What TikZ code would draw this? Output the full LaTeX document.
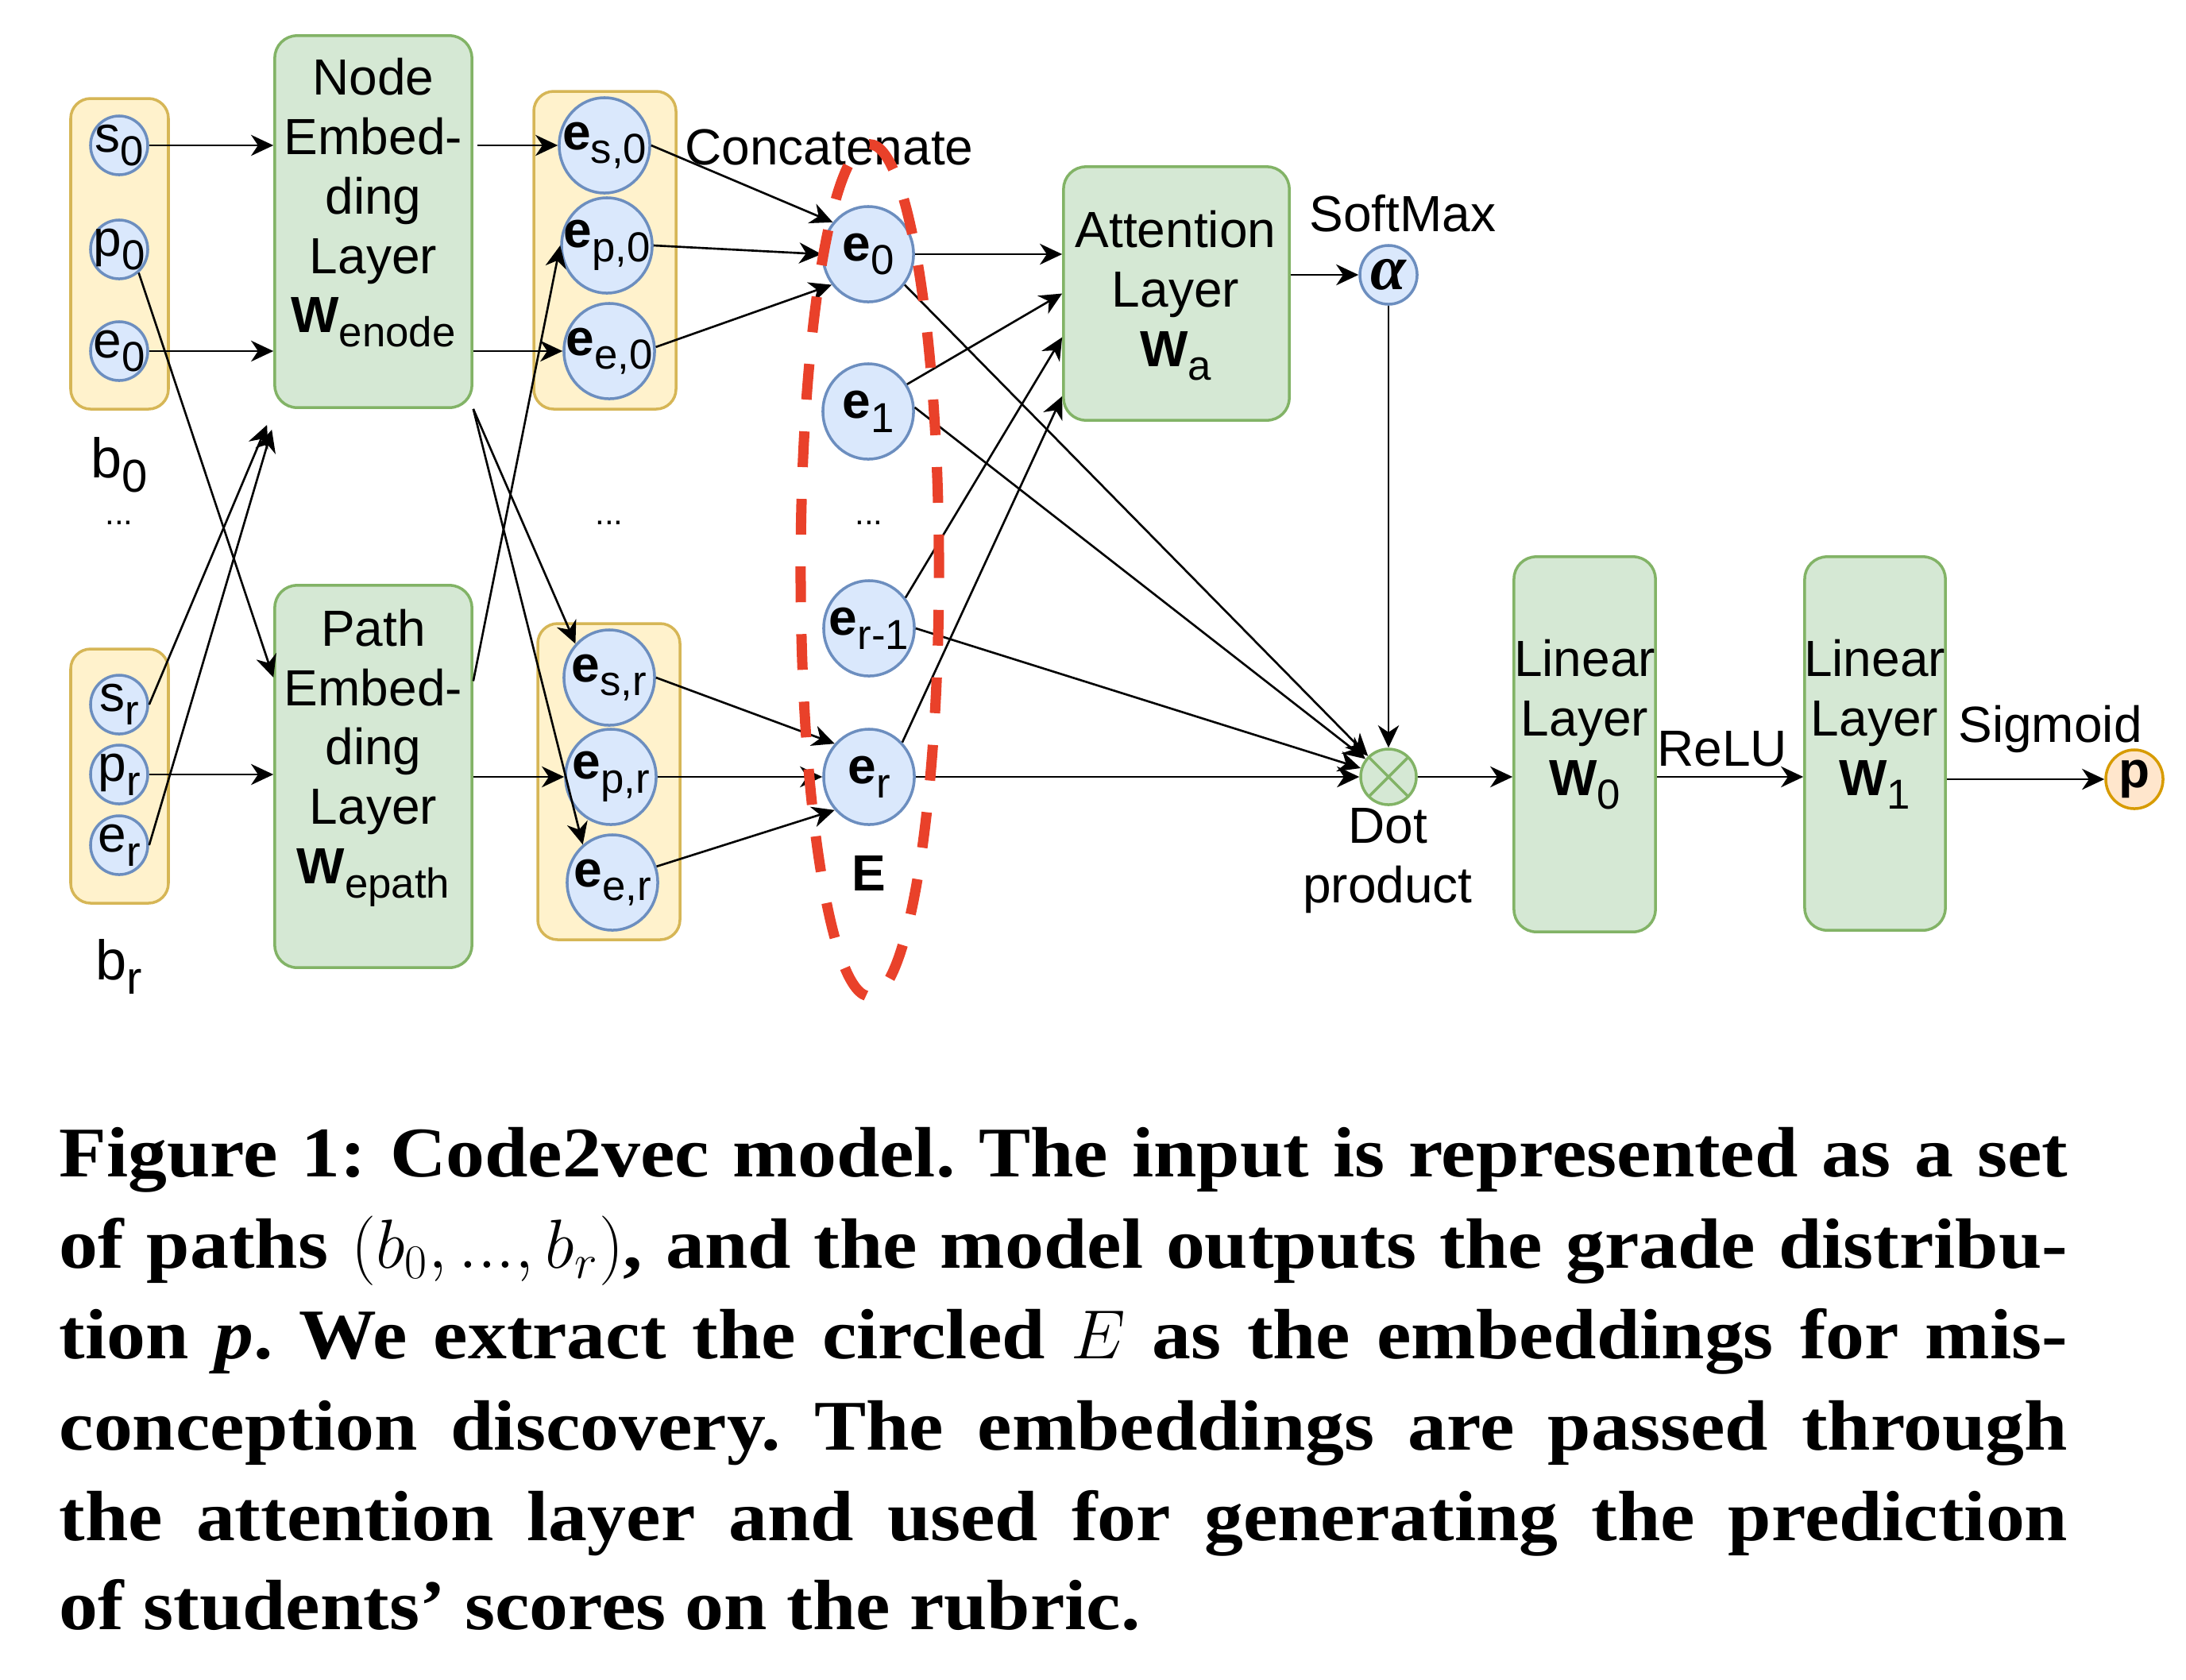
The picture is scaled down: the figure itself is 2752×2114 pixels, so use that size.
\documentclass[tikz,border=0pt]{standalone}
\usepackage{fontspec}
\setmainfont{Liberation Serif}
\setsansfont{Liberation Sans}
\newfontfamily\capfont[FakeStretch=1.09]{Liberation Serif}
\usetikzlibrary{arrows.meta,shapes.geometric}
\definecolor{lgreen}{HTML}{D5E8D4}
\definecolor{dgreen}{HTML}{82B366}
\definecolor{lyellow}{HTML}{FFF2CC}
\definecolor{dyellow}{HTML}{D6B656}
\definecolor{lblue}{HTML}{DAE8FC}
\definecolor{dblue}{HTML}{6C8EBF}
\definecolor{lorange}{HTML}{FFE6CC}
\definecolor{dorange}{HTML}{D79B00}
\definecolor{dashred}{HTML}{E9412A}
\newcommand{\dsub}[1]{\raisebox{-5pt}{\fontsize{15}{15}\selectfont #1}}
\newcommand{\bsub}[2]{\textbf{#1}\dsub{#2}}
\newcommand{\blabel}[1]{\fontsize{20}{20}\selectfont b\raisebox{-5pt}{\fontsize{16.5}{16.5}\selectfont #1}}

\begin{document}
\begin{tikzpicture}[x=0.01cm, y=-0.01cm,
    >={Stealth[length=8pt,width=7.5pt,inset=2.5pt]},
    every node/.style={font=\sffamily\fontsize{18.2}{21.3}\selectfont},
    arr/.style={->, line width=0.75pt},
    grp/.style={draw=dyellow, fill=lyellow, line width=1pt, rounded corners=0.25cm},
    layer/.style={draw=dgreen, fill=lgreen, line width=1pt, rounded corners=0.28cm},
    inp/.style={ellipse, draw=dblue, fill=lblue, line width=1pt, inner sep=0pt, minimum width=0.72cm, minimum height=0.74cm},
    emb/.style={ellipse, draw=dblue, fill=lblue, line width=1pt, inner sep=0pt, minimum width=1.14cm, minimum height=1.2cm},
    capline/.style={anchor=base west, inner sep=0pt, font=\capfont\bfseries\frenchspacing\fontsize{25.5}{32}\selectfont}]
\useasboundingbox (0,0) rectangle (2752,2114);

% input paths b_0 ... b_r
\draw[grp] (89,124) rectangle (212,515);
\draw[grp] (89,817) rectangle (212,1137);
\node[inp, label=center:{s\dsub{0}}] (s0) at (150,183) {};
\node[inp, label=center:{p\dsub{0}}] (p0) at (150,314) {};
\node[inp, label=center:{e\dsub{0}}] (e0) at (150,442) {};
\node[inp, label=center:{s\dsub{r}}] (sr) at (150,887) {};
\node[inp, label=center:{p\dsub{r}}] (pr) at (150,975) {};
\node[inp, label=center:{e\dsub{r}}] (er) at (150,1064) {};
\node (b0lbl) at (150,585) {\blabel{0}};
\node (brlbl) at (150,1217) {\blabel{r}};
\foreach \x in {150,767,1094}
{
    \node (dots\x) at (\x,658) {\fontsize{12}{12}\selectfont ...};
}

% embedding layers
\node[layer, minimum width=2.48cm, minimum height=4.68cm] (nodelayer) at (470,279) {};
\node[align=center] (nodetxt) at (470,255) {Node\\Embed-\\ding\\Layer\\\bsub{W}{enode}};
\node[layer, minimum width=2.48cm, minimum height=4.81cm] (pathlayer) at (470,977.5) {};
\node[align=center] (pathtxt) at (470,954) {Path\\Embed-\\ding\\Layer\\\bsub{W}{epath}};

\draw[grp] (672,115) rectangle (851,515);
\draw[grp] (677,785) rectangle (856,1183);
\node[emb, label=center:{\bsub{e}{s,0}}] (es0) at (761,183) {};
\node[emb, label=center:{\bsub{e}{p,0}}] (ep0) at (764,309) {};
\node[emb, label=center:{\bsub{e}{e,0}}] (ee0) at (767,442) {};
\node[emb, label=center:{\bsub{e}{s,r}}] (esr) at (767,853) {};
\node[emb, label=center:{\bsub{e}{p,r}}] (epr) at (769,978) {};
\node[emb, label=center:{\bsub{e}{e,r}}] (eer) at (771,1111) {};

% concatenated embeddings E
\node (concat) at (1044,185) {Concatenate};
\node[emb, label=center:{\bsub{e}{0}}] (cat0) at (1093,320) {};
\node[emb, label=center:{\bsub{e}{1}}] (cat1) at (1093,518) {};
\node[emb, label=center:{\bsub{e}{r-1}}] (catr1) at (1094,791) {};
\node[emb, label=center:{\bsub{e}{r}}] (catr) at (1094,978) {};
\node (elbl) at (1094,1099) {\textbf{E}};

% attention, dot product, linear layers
\node[layer, minimum width=2.84cm, minimum height=3.19cm] (attn) at (1481,369.5) {};
\node[align=center] (attntxt) at (1480,372) {Attention\\Layer\\\bsub{W}{a}};
\node[inp, label=center:{\rmfamily\bfseries\itshape\fontsize{23}{23}\selectfont α}] (alpha) at (1748,346) {};
\node (softlbl) at (1766,269) {SoftMax};
\node[circle, draw=dgreen, fill=lgreen, line width=1pt, inner sep=0pt, minimum size=0.7cm,
    path picture={\draw[dgreen, line width=1pt] (path picture bounding box.north west) -- (path picture bounding box.south east)
    (path picture bounding box.south west) -- (path picture bounding box.north east);}] (dot) at (1748,978) {};
\node[align=center] (dotlbl) at (1747,1084) {Dot\\product};
\node[layer, minimum width=1.78cm, minimum height=4.72cm] (lin0) at (1995,937) {};
\node[align=center] (lin0txt) at (1995,912) {Linear\\Layer\\\bsub{W}{0}};
\node[layer, minimum width=1.77cm, minimum height=4.7cm] (lin1) at (2360.5,936) {};
\node[align=center] (lin1txt) at (2360,912) {Linear\\Layer\\\bsub{W}{1}};
\node[inp, draw=dorange, fill=lorange, label=center:{\textbf{p}}] (out) at (2687,981) {};
\node (siglbl) at (2581,918) {Sigmoid};

% connectors
\draw[arr] (s0) -- (s0 -| nodelayer.west);
\draw[arr] (e0) -- (e0 -| nodelayer.west);
\draw[arr] (p0.-50) -- ([yshift=1.245cm]pathlayer.west);
\draw[arr] (sr.east) -- ([xshift=-0.08cm,yshift=-0.2cm]nodelayer.south west);
\draw[arr] (er.east) -- ([xshift=-0.02cm,yshift=-0.26cm]nodelayer.south west);
\draw[arr] (pr) -- (pr -| pathlayer.west);
\draw[arr] ([xshift=0.05cm]nodelayer.east |- es0) -- (es0);
\draw[arr] (nodelayer.east |- ee0) -- (ee0);
\draw[arr] (nodelayer.south east) -- (esr.135);
\draw[arr] (nodelayer.south east) -- (eer.128);
\draw[arr] ([yshift=1.2cm]pathlayer.east) -- (ep0.west);
\draw[arr] (pathlayer.east |- epr) -- (epr);

\draw[arr] (es0.east) -- (cat0.138);
\draw[arr] (ep0.east) -- (cat0.west);
\draw[arr] (ee0.5) -- (cat0.220);
\draw[arr] (esr.east) -- (catr.136);
\draw[arr] (epr.east) -- (catr.west);
\draw[arr] (eer.20) -- (catr.224);

\draw[arr] (cat0) -- (cat0 -| attn.west);
\draw[arr] (cat1.35) -- (attn.west);
\draw[arr] (catr1.40) -- ([yshift=-0.55cm]attn.west);
\draw[arr] (catr.46) -- ([yshift=0.32cm]attn.south west);
\draw[arr] (cat0.-40) -- (dot);
\draw[arr] (cat1.5) -- (dot);
\draw[arr] (catr1.east) -- (dot);
\draw[arr] (catr) -- (dot);
\draw[arr] (attn.east |- alpha) -- (alpha);
\draw[arr] (alpha) -- (dot);
\draw[arr] (dot) -- (dot -| lin0.west);
\draw[arr] (lin0.east |- dot) -- node[above, xshift=-0.1cm] (relu) {ReLU} (lin1.west |- dot);
\draw[arr] (lin1.east |- out) -- (out);

% the circled E
\draw[dashred, line width=3.7pt, dash pattern=on 12.8pt off 11.4pt] (1095,718) ellipse [x radius=0.87cm, y radius=5.36cm];

% caption
\node[capline] (cap1) at (74,1481) {\makebox[25.27cm][s]{Figure 1: Code2vec model. The input is represented as a set}};
\node[capline] (cap2) at (74,1596) {\makebox[25.27cm][s]{of paths $(b_0, ..., b_r)$, and the model outputs the grade distribu-}};
\node[capline] (cap3) at (74,1710) {\makebox[25.27cm][s]{tion \textit{p}. We extract the circled $E$ as the embeddings for mis-}};
\node[capline] (cap4) at (74,1825) {\makebox[25.27cm][s]{conception discovery. The embeddings are passed through}};
\node[capline] (cap5) at (74,1939) {\makebox[25.27cm][s]{the attention layer and used for generating the prediction}};
\node[capline] (cap6) at (74,2051) {of students’ scores on the rubric.};

\end{tikzpicture}
\end{document}
